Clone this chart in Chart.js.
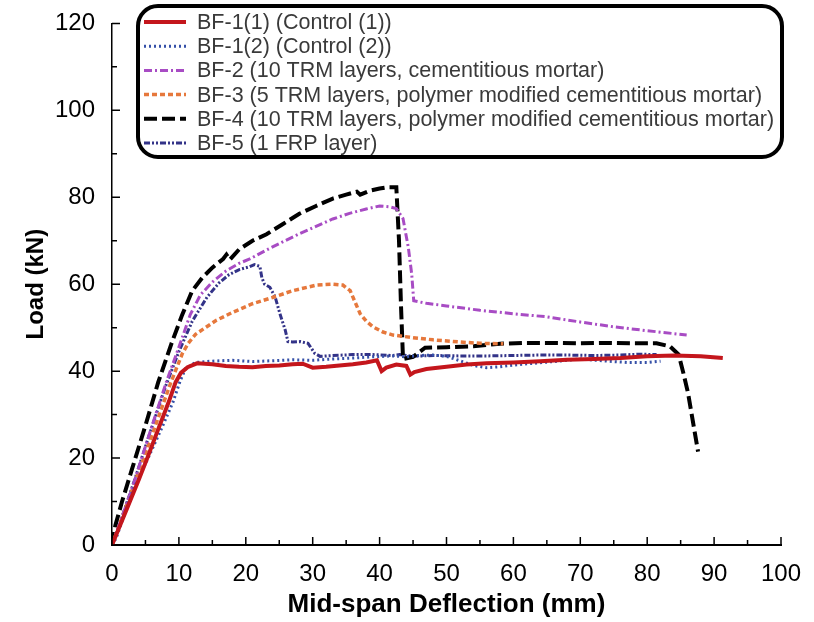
<!DOCTYPE html>
<html><head><meta charset="utf-8">
<script src="https://cdn.jsdelivr.net/npm/chart.js@4.4.1/dist/chart.umd.min.js"></script>
<style>html,body{margin:0;padding:0;background:#fff}#wrap{width:814px;height:622px}</style>
</head><body><div id="wrap"><canvas id="c" width="814" height="622"></canvas></div>
<script>
const seriesLabels = [
  'BF-1(1) (Control (1))',
  'BF-1(2) (Control (2))',
  'BF-2 (10 TRM layers, cementitious mortar)',
  'BF-3 (5 TRM layers, polymer modified cementitious mortar)',
  'BF-4 (10 TRM layers, polymer modified cementitious mortar)',
  'BF-5 (1 FRP layer)'
];
const xTicks = [0,10,20,30,40,50,60,70,80,90,100];
const yTicks = [0,20,40,60,80,100,120];

const bf11X = [0,1.2,2.4,4,5.4,7,8.5,9.5,10.3,11.3,12.7,15,17,19,21,23,25,27,28.5,30,32,34,36,38,39.6,40.3,41,42.5,44,44.6,45.2,47,50,53,56,60,64,68,72,76,80,84,88,91.3];
const bf11Y = [0,4.5,9,15,20.5,27,33,37.4,39.6,40.9,41.8,41.6,41.2,41,40.9,41.2,41.3,41.6,41.7,40.8,41,41.3,41.6,42,42.5,40,40.8,41.5,41.2,39.2,39.8,40.5,41,41.5,41.8,42,42.3,42.6,42.8,43,43.4,43.6,43.4,43];

const bf12X = [0,0.6,3.1,5.4,7.4,9.1,10.2,11,12.5,15,18,21,24,27,30,33,36,39,42,44,46,48,50,52,54,56,58,60,63,66,70,74,77,80,82];
const bf12Y = [0,1.5,12.5,20,26.8,32.8,37.8,40.6,42,42.3,42.5,42.2,42.4,42.6,42.5,42.8,43,43.3,43.5,43.3,43.6,43.7,43.4,42.4,41.3,40.8,41,41.4,41.8,42.2,42.8,42.3,42,42,42.3];

const bf2X = [0,1.4,3,4.4,6,8.1,10.2,11.7,13.2,15,17,19,20.6,23,25.6,28,30.5,33,35.5,38,40,41.5,42.5,43.5,44.3,44.8,45.1,47,50,55,60,65,70,75,80,85.9];
const bf2Y = [0,6,13,19.8,27.5,37.4,46.4,53,57.5,60.5,63,64.8,65.8,67.8,69.8,71.6,73.3,75,76.3,77.3,78,77.8,77.4,75.1,68.4,62.3,56.2,55.6,55,54,53.2,52.5,51.3,50.2,49.3,48.3];

const bf3X = [0,2,4.5,6.5,8.8,10.5,11.4,12.5,15.6,18,21,24.1,27,30.6,33,34.5,35.6,36.3,37.1,38,39,40.5,42,45,48,52,55,58.5];
const bf3Y = [0,8.4,19,27.5,37.4,44,46.4,48.5,51.7,53.5,55.5,57,58.5,59.8,60,59.8,58.5,56,53.2,51.5,50.2,49,48.3,47.7,47.2,46.7,46.4,46.3];

const bf4X = [0,0.5,1.5,3,5,6.9,8.9,10.5,12,13.5,15,16.6,17.1,17.6,19,21,23.1,25.5,28,30.5,33,35,36.6,37.1,38.5,40,41.1,42.5,42.9,43.2,43.5,45,46.8,50,54,58,62,66,70,74,78,81.4,83.4,84.7,85.4,86.1,87.6];
const bf4Y = [0,4.5,10,17.5,27.5,37.4,46.4,53,58.5,61.5,63.8,65.8,66.8,65.6,68,70,71.5,73.8,76.2,78,79.7,80.6,81.3,80.6,81.5,82,82.3,82.3,70,55,42.8,43.3,45.4,45.5,45.7,46.3,46.5,46.5,46.4,46.5,46.4,46.4,45.7,43.8,39.6,35,21.5];

const bf5X = [0,1.5,3.5,5.5,8,10,12,14.2,16,17.5,19.1,20.5,21.3,22.1,22.4,22.8,23.6,24.4,25.1,25.9,26.3,27,28.1,29.3,30.3,31.1,33,36,39,42,43,45,48,52,56,60,64,68,72,76,79,81.4];
const bf5Y = [0,6.5,15.5,25,36.5,44.5,51.5,57,60.3,62.2,63.4,64,64.5,64.1,61.5,60,59.3,57,53.2,49.4,46.8,46.7,46.8,46.4,44.1,43.4,43.6,43.8,43.8,43.6,43.8,43.4,43.6,43.5,43.5,43.6,43.7,43.7,43.6,43.7,43.9,43.8];

const FONT = "'Liberation Sans', Arial, sans-serif";
const pts = (xs, ys) => xs.map((x, i) => ({x, y: ys[i]}));

const datasets = [
  {label: seriesLabels[0], data: pts(bf11X, bf11Y), borderColor: '#c4161c', borderWidth: 4, borderDash: []},
  {label: seriesLabels[1], data: pts(bf12X, bf12Y), borderColor: '#3550a8', borderWidth: 3, borderDash: [2, 3]},
  {label: seriesLabels[2], data: pts(bf2X, bf2Y), borderColor: '#a84cc4', borderWidth: 3, borderDash: [8, 3, 2, 3]},
  {label: seriesLabels[3], data: pts(bf3X, bf3Y), borderColor: '#e6783c', borderWidth: 3.5, borderDash: [5, 3]},
  {label: seriesLabels[4], data: pts(bf4X, bf4Y), borderColor: '#000000', borderWidth: 4, borderDash: [13, 5]},
  {label: seriesLabels[5], data: pts(bf5X, bf5Y), borderColor: '#333388', borderWidth: 3, borderDash: [6, 2, 2, 2, 2, 2]}
].map(d => Object.assign(d, {showLine: true, pointRadius: 0, fill: false, tension: 0, borderCapStyle: 'butt'}));

const inTicks = {
  id: 'inTicks',
  afterDraw(chart) {
    const {ctx, chartArea: a, scales: {x, y}} = chart;
    ctx.save();
    ctx.strokeStyle = '#000';
    ctx.lineWidth = 1.5;
    ctx.beginPath();
    for (let i = 0; i < xTicks.length; i++) {
      const v = xTicks[i];
      let px = x.getPixelForValue(v);
      ctx.moveTo(px, a.bottom); ctx.lineTo(px, a.bottom - 8);
      if (i < xTicks.length - 1) {
        px = x.getPixelForValue((v + xTicks[i + 1]) / 2);
        ctx.moveTo(px, a.bottom); ctx.lineTo(px, a.bottom - 5);
      }
    }
    for (let i = 0; i < yTicks.length; i++) {
      const v = yTicks[i];
      let py = y.getPixelForValue(v);
      ctx.moveTo(a.left, py); ctx.lineTo(a.left + 8, py);
      if (i < yTicks.length - 1) {
        py = y.getPixelForValue((v + yTicks[i + 1]) / 2);
        ctx.moveTo(a.left, py); ctx.lineTo(a.left + 5, py);
      }
    }
    ctx.stroke();
    ctx.restore();
  }
};

const boxLegend = {
  id: 'boxLegend',
  afterDraw(chart) {
    const ctx = chart.ctx;
    ctx.save();
    const bx = 138, by = 6, bw = 644, bh = 151, r = 20;
    ctx.beginPath();
    ctx.roundRect(bx, by, bw, bh, r);
    ctx.fillStyle = '#fff';
    ctx.fill();
    ctx.lineWidth = 4;
    ctx.strokeStyle = '#000';
    ctx.stroke();
    ctx.font = '21.5px ' + FONT;
    ctx.textBaseline = 'middle';
    chart.data.datasets.forEach((d, i) => {
      const yy = 22 + i * 24.2;
      ctx.beginPath();
      ctx.setLineDash(d.borderDash || []);
      ctx.lineWidth = d.borderWidth;
      ctx.strokeStyle = d.borderColor;
      ctx.moveTo(144, yy); ctx.lineTo(186, yy);
      ctx.stroke();
      ctx.setLineDash([]);
      ctx.fillStyle = '#3a3a3a';
      ctx.fillText(d.label, 197, yy + 1);
    });
    ctx.restore();
  }
};

new Chart(document.getElementById('c'), {
  type: 'scatter',
  data: {datasets},
  options: {
    responsive: false,
    animation: false,
    devicePixelRatio: 1,
    layout: {padding: {top: 15, right: 33, left: 0, bottom: 0}},
    plugins: {legend: {display: false}, tooltip: {enabled: false}},
    scales: {
      x: {
        type: 'linear', min: 0, max: 100,
        afterBuildTicks: s => { s.ticks = xTicks.map(v => ({value: v})); },
        afterFit: s => { s.height = 77; },
        ticks: {font: {family: FONT, size: 24}, color: '#000', padding: 7, maxRotation: 0, autoSkip: false},
        grid: {display: false},
        border: {display: true, color: '#000', width: 2},
        title: {display: true, text: 'Mid-span Deflection (mm)', color: '#000', font: {family: FONT, size: 26, weight: 'bold'}, padding: {top: 0, bottom: 2}}
      },
      y: {
        type: 'linear', min: 0, max: 120,
        afterBuildTicks: s => { s.ticks = yTicks.map(v => ({value: v})); },
        afterFit: s => { s.width = 112; },
        ticks: {font: {family: FONT, size: 24}, color: '#000', padding: 9},
        grid: {display: false},
        border: {display: true, color: '#000', width: 1.5},
        title: {display: true, text: 'Load (kN)', color: '#000', font: {family: FONT, size: 24, weight: 'bold'}, padding: {top: 22, bottom: 0}}
      }
    }
  },
  plugins: [inTicks, boxLegend]
});
</script>
</body></html>
